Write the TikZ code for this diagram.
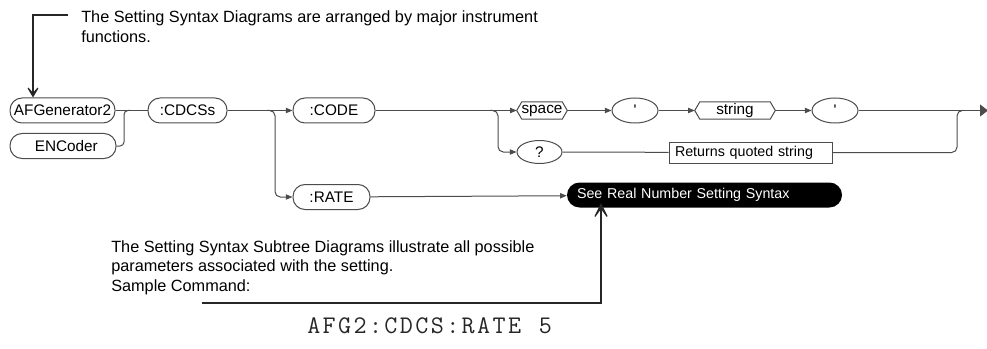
\documentclass[tikz,border=0pt]{standalone}
\usepackage{fontspec}
\setmainfont{Liberation Sans}
\usetikzlibrary{arrows.meta,shapes.geometric}
\newcommand\hexfr[1]{\draw[conn] (#1.west) -- ([xshift=3.75pt]#1.north west) -- ([xshift=-3.75pt]#1.north east) -- (#1.east) -- ([xshift=-3.75pt]#1.south east) -- ([xshift=3.75pt]#1.south west) -- cycle;}
\def\lsp#1{\ifx#1\relax\else#1\kern1.8pt\expandafter\lsp\fi}
\begin{document}
\begin{tikzpicture}[x=0.75pt,y=-0.75pt,
  conn/.style={draw=black!70,line width=0.75pt},
  lbl/.style={font=\fontsize{11.5}{13}\selectfont},
  capsule/.style={conn,lbl,rounded corners=9pt,minimum height=18.75pt,inner sep=0pt},
  oval/.style={conn,lbl,ellipse,inner sep=0pt},
  hexbox/.style={lbl,inner sep=0pt,minimum height=12.5pt},
  ar/.style={-{Triangle[length=5pt,width=4pt]}},
  lead/.style={draw=black!85,line width=0.9pt},
  txt/.style={anchor=base west,inner sep=0pt,font=\fontsize{12.2}{15}\selectfont},
]
\useasboundingbox (0,0) rectangle (987,349);

% nodes
\node[capsule,minimum width=78.75pt] (afg) at (62.5,110.5) {AFGenerator2};
\node[capsule,minimum width=79.5pt] (enc) at (63,146) {\hspace*{5pt}ENCoder};
\node[capsule,minimum width=59.25pt] (cdcs) at (187.5,110.5) {:CDCSs};
\node[capsule,minimum width=61.5pt] (code) at (334,110.5) {:CODE};
\node[capsule,minimum width=57.75pt] (rate) at (331.5,197) {:RATE};
\node[hexbox,minimum width=37.5pt] (space) at (542,110.5) {space};
\node[oval,minimum width=34.5pt,minimum height=18.75pt] (q1) at (635,110.5) {\textquotesingle};
\node[hexbox,minimum width=60pt] (str) at (735,110.5) {string};
\node[oval,minimum width=34.5pt,minimum height=18.75pt] (q2) at (835,110.5) {\textquotesingle};
\node[oval,minimum width=33.75pt,minimum height=17.25pt] (qm) at (539.5,152) {?};
\node[conn,rectangle,inner xsep=4.5pt,inner ysep=0pt,minimum height=15.75pt,text width=113.25pt,align=left,
      font=\fontsize{10.7}{12}\selectfont] (ret) at (750.5,152.5) {Returns quoted string};
\node[fill=black,text=white,rounded corners=9.4pt,inner xsep=7.5pt,inner ysep=0pt,minimum height=18.75pt,
      text width=191.25pt,align=left,font=\fontsize{10.7}{12}\selectfont] (see) at (704.5,195) {See Real Number Setting Syntax};
\hexfr{space}
\hexfr{str}

% junction coordinates
\coordinate (j1) at (124,110.5);
\coordinate (j2) at (275,110.5);
\coordinate (j3) at (498,110.5);
\coordinate (j4) at (957,110.5);
\coordinate (endpt) at (988,110.5);

% connectors
\draw[conn] (afg) -- (cdcs);
\draw[conn,rounded corners=3pt] (enc.east) -| (j1) -- ++(6,0);
\draw[conn,ar] (cdcs) -- (code);
\draw[conn,ar,rounded corners=4pt] ([xshift=-6pt]j2) -| (j2 |- rate.west) -- (rate.west);
\draw[conn,ar] (code) -- (space);
\draw[conn,ar,rounded corners=4pt] ([xshift=-6pt]j3) -| (j3 |- qm.west) -- (qm.west);
\draw[conn,ar] (space) -- (q1);
\draw[conn,ar] (q1) -- (str);
\draw[conn,ar] (str) -- (q2);
\draw[conn,-{Triangle[length=6pt,width=9pt]}] (q2) -- (endpt);
\draw[conn] (qm) -- (ret);
\draw[conn,rounded corners=4pt] (ret.east) -| (j4) -- ++(6,0);
\draw[conn,ar] (rate) -- (see);

% top annotation
\node[txt] (t1) at (81,23) {The Setting Syntax Diagrams are arranged by major instrument};
\node[txt] (t2) at (81,43) {functions.};
\coordinate (ts) at (68,15);
\coordinate (tc) at (33,15);
\draw[lead,-{Stealth[length=11pt,width=13pt,inset=7.5pt]}] (ts) -- (tc) -- (tc |- afg.north);

% bottom annotation
\node[txt] (b1) at (111,252) {The Setting Syntax Subtree Diagrams illustrate all possible};
\node[txt] (b2) at (111,271) {parameters associated with the setting.};
\node[txt] (b3) at (111,291) {Sample Command:};
\coordinate (bs) at (202,303);
\coordinate (bc) at (601,303);
\coordinate (btip) at (601,203);
\draw[lead,-{Stealth[length=15pt,width=15pt,inset=10.5pt]}] (bs) -- (bc) -- (btip);

\node[anchor=base west,inner sep=0pt,text=black!85,font=\ttfamily\fontsize{19}{20}\selectfont] (cmd) at (307,333) {\lsp AFG2:CDCS:RATE\relax\ \kern1.8pt 5};
\end{tikzpicture}
\end{document}
